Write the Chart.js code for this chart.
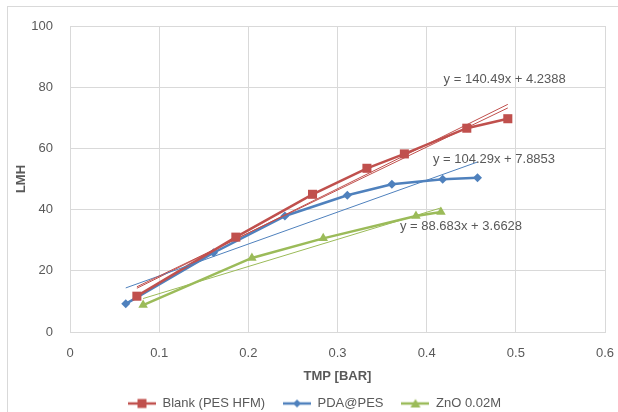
<!DOCTYPE html>
<html lang="en">
<head>
    <meta charset="UTF-8">
    <title>LMH vs TMP</title>
    <script src="https://cdn.jsdelivr.net/npm/chart.js"></script>
    <style>
        body, html {
            margin: 0;
            padding: 0;
            background: #fff;
        }
        .wrap {
            position: relative;
            width: 618px;
            height: 412px;
        }
        .frame {
            position: absolute;
            left: 7px;
            top: 6px;
            right: 0;
            bottom: 0;
            border-top: 1px solid #d9d9d9;
            border-left: 1px solid #d9d9d9;
            pointer-events: none;
        }
    </style>
</head>
<body>
    <div class="wrap">
        <canvas id="chart" width="618" height="412"></canvas>
        <div class="frame"></div>
    </div>

    <script>
        // series
        const blankX = [0.075, 0.186, 0.272, 0.333, 0.375, 0.445, 0.491];
        const blankY = [11.7, 31.0, 45.0, 53.5, 58.2, 66.6, 69.7];
        const pdaX = [0.0625, 0.161, 0.241, 0.311, 0.361, 0.418, 0.457];
        const pdaY = [9.2, 25.9, 37.9, 44.7, 48.3, 49.9, 50.4];
        const znoX = [0.082, 0.204, 0.284, 0.388, 0.416];
        const znoY = [8.8, 24.2, 30.6, 37.9, 39.2];

        const seriesNames = ['Blank (PES HFM)', 'PDA@PES', 'ZnO 0.02M'];
        const seriesColors = ['#C0504D', '#4F81BD', '#9BBB59'];

        // linear trendlines shown in the chart
        const trendSlope = [140.49, 104.29, 88.683];
        const trendIntercept = [4.2388, 7.8853, 3.6628];
        const trendText = ['y = 140.49x + 4.2388', 'y = 104.29x + 7.8853', 'y = 88.683x + 3.6628'];
        // second thin red line
        const blankLine2X = [0.075, 0.491];
        const blankLine2Y = [14.3, 74.4];

        const xTicks = [0, 0.1, 0.2, 0.3, 0.4, 0.5, 0.6];
        const yTicks = [0, 20, 40, 60, 80, 100];

        const zip = (xs, ys) => xs.map((x, i) => ({x: x, y: ys[i]}));
        const allX = [blankX, pdaX, znoX];

        function trendPoints(i) {
            const xs = allX[i];
            const x0 = Math.min(...xs), x1 = Math.max(...xs);
            return [
                {x: x0, y: trendSlope[i] * x0 + trendIntercept[i]},
                {x: x1, y: trendSlope[i] * x1 + trendIntercept[i]}
            ];
        }

        const trendSets = [0, 1, 2].map(i => ({
            label: 'trend' + i,
            data: trendPoints(i),
            showLine: true,
            borderColor: seriesColors[i],
            borderWidth: 1,
            pointRadius: 0
        }));
        trendSets.push({
            label: 'trend0b',
            data: zip(blankLine2X, blankLine2Y),
            showLine: true,
            borderColor: seriesColors[0],
            borderWidth: 1,
            pointRadius: 0
        });
        const trendCount = trendSets.length;

        const pointStyles = ['rect', 'rectRot', 'triangle'];
        const pointRadii = [6.4, 4.5, 5.5];
        const mainSets = [
            zip(blankX, blankY), zip(pdaX, pdaY), zip(znoX, znoY)
        ].map((d, i) => ({
            label: seriesNames[i],
            data: d,
            showLine: true,
            borderColor: seriesColors[i],
            backgroundColor: seriesColors[i],
            borderWidth: 2.5,
            pointStyle: pointStyles[i],
            pointRadius: pointRadii[i],
            pointHoverRadius: pointRadii[i],
            pointBorderWidth: 0
        }));

        // legend icons: a short line with the marker in the middle
        function legendIcon(i) {
            const c = document.createElement('canvas');
            c.width = 28; c.height = 12;
            const g = c.getContext('2d');
            g.strokeStyle = seriesColors[i];
            g.fillStyle = seriesColors[i];
            g.lineWidth = 2.5;
            g.beginPath(); g.moveTo(0, 6); g.lineTo(28, 6); g.stroke();
            g.beginPath();
            if (i === 0) {
                g.rect(9.5, 1.5, 9, 9);
            } else if (i === 1) {
                g.moveTo(14, 2); g.lineTo(18, 6); g.lineTo(14, 10); g.lineTo(10, 6);
            } else {
                g.moveTo(14, 1.5); g.lineTo(19, 10); g.lineTo(9, 10);
            }
            g.closePath();
            g.fill();
            return c;
        }
        const icons = [0, 1, 2].map(legendIcon);

        // equations written next to the trendlines
        const trendLabels = {
            id: 'trendLabels',
            afterDatasetsDraw(chart) {
                const {ctx, scales: {x, y}} = chart;
                const anchors = [[0.419, 82.6], [0.407, 56.4], [0.370, 34.4]];
                ctx.save();
                ctx.font = '13px "Liberation Sans", Arial, sans-serif';
                ctx.fillStyle = '#595959';
                ctx.textBaseline = 'middle';
                ctx.textAlign = 'left';
                trendText.forEach((t, i) => {
                    ctx.fillText(t, x.getPixelForValue(anchors[i][0]), y.getPixelForValue(anchors[i][1]));
                });
                ctx.restore();
            }
        };

        const font = {family: '"Liberation Sans", Arial, sans-serif', size: 13};
        const grey = '#595959';
        const gridColor = '#d9d9d9';

        new Chart(document.getElementById('chart').getContext('2d'), {
            type: 'scatter',
            data: {datasets: trendSets.concat(mainSets)},
            options: {
                responsive: false,
                animation: false,
                layout: {padding: {left: 24, right: 13, top: 26, bottom: -8}},
                plugins: {
                    tooltip: {enabled: false},
                    legend: {
                        position: 'bottom',
                        labels: {
                            usePointStyle: true,
                            pointStyleWidth: 28,
                            padding: 18,
                            color: grey,
                            font: font,
                            generateLabels(chart) {
                                const items = Chart.defaults.plugins.legend.labels.generateLabels(chart);
                                return items.filter(it => it.datasetIndex >= trendCount).map(it => {
                                    it.pointStyle = icons[it.datasetIndex - trendCount];
                                    return it;
                                });
                            }
                        }
                    }
                },
                scales: {
                    x: {
                        type: 'linear',
                        min: 0,
                        max: 0.6,
                        afterBuildTicks(scale) {
                            scale.ticks = xTicks.map(v => ({value: v}));
                        },
                        afterFit(scale) {
                            scale.height = 47;
                            scale.paddingLeft = 0;
                            scale.paddingRight = 0;
                        },
                        grid: {color: gridColor, drawTicks: false},
                        border: {color: gridColor},
                        ticks: {color: grey, font: font, padding: 14},
                        title: {
                            display: true,
                            text: 'TMP [BAR]',
                            color: grey,
                            font: {family: font.family, size: 13, weight: 'bold'},
                            padding: {top: 0, bottom: -5}
                        }
                    },
                    y: {
                        type: 'linear',
                        min: 0,
                        max: 100,
                        afterBuildTicks(scale) {
                            scale.ticks = yTicks.map(v => ({value: v}));
                        },
                        afterFit(scale) {
                            scale.width = 46;
                            scale.paddingTop = 0;
                            scale.paddingBottom = 0;
                        },
                        grid: {color: gridColor, drawTicks: false},
                        border: {color: gridColor},
                        ticks: {color: grey, font: font, padding: 17},
                        title: {
                            display: true,
                            text: 'LMH',
                            color: grey,
                            font: {family: font.family, size: 13, weight: 'bold'},
                            padding: {top: -10, bottom: 0}
                        }
                    }
                }
            },
            plugins: [trendLabels]
        });
    </script>
</body>
</html>
